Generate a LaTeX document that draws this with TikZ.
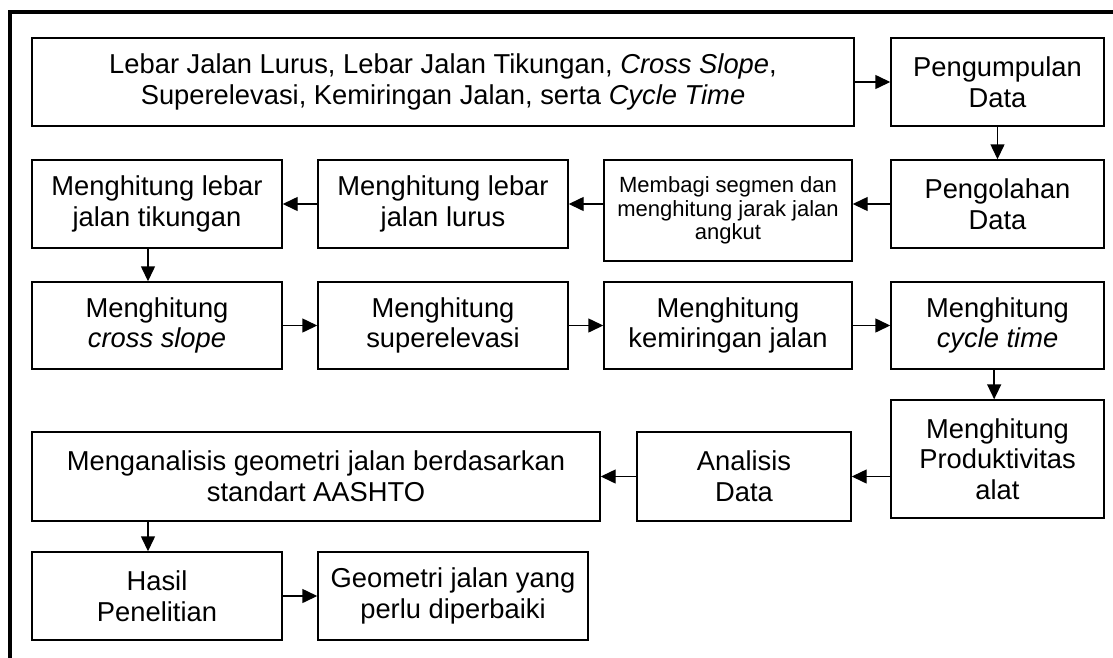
\documentclass[tikz,border=0pt]{standalone}
\usepackage{fontspec}
\setmainfont{Liberation Sans}
\usetikzlibrary{arrows.meta}
\newcommand\mainf{\fontsize{20.5pt}{23pt}\selectfont}
\newcommand\smallf{\fontsize{16.5pt}{17.5pt}\selectfont}
\begin{document}
\begin{tikzpicture}[x=0.75pt,y=-0.75pt,
  box/.style={draw, line width=1.1pt, inner sep=0pt, align=center, font=\mainf},
  smallbox/.style={draw, line width=1.1pt, inner sep=0pt, align=center, font=\smallf},
  arr/.style={line width=1.1pt, -{Triangle[length=11.25pt,width=10.5pt]}}]
\useasboundingbox (0,0) rectangle (1113,657);
\clip (0,0) rectangle (1113,657);
\fill[white] (0,0) rectangle (1113,657);
% frame
\draw[line width=3pt] (10,700) -- (10,12) -- (1200,12);
% row 1
\node[box, minimum width=616.5pt, minimum height=66pt] (top) at (443,82) {Lebar Jalan Lurus, Lebar Jalan Tikungan, \textit{Cross Slope},\\Superelevasi, Kemiringan Jalan, serta \textit{Cycle Time}};
\node[box, minimum width=159.75pt, minimum height=66pt] (kumpul) at (997.5,82) {Pengumpulan\\Data};
% row 2
\node[box, minimum width=159.75pt, minimum height=66pt] (olah) at (997.5,204) {Pengolahan\\Data};
\node[smallbox, minimum width=186pt, minimum height=75.75pt] (bagi) at (728,210.5) {Membagi segmen dan\\menghitung jarak jalan\\angkut};
\node[box, minimum width=187.5pt, minimum height=66pt] (lurus) at (443,204) {Menghitung lebar\\jalan lurus};
\node[box, minimum width=187.5pt, minimum height=66pt] (tik) at (157,204) {Menghitung lebar\\jalan tikungan};
% row 3
\node[box, minimum width=187.5pt, minimum height=65.25pt] (cross) at (157,325.5) {Menghitung\\\textit{cross slope}};
\node[box, minimum width=187.5pt, minimum height=65.25pt] (super) at (443,325.5) {Menghitung\\superelevasi};
\node[box, minimum width=186pt, minimum height=65.25pt] (miring) at (728,325.5) {Menghitung\\kemiringan jalan};
\node[box, minimum width=159.75pt, minimum height=65.25pt] (cycle) at (997.5,325.5) {Menghitung\\\textit{cycle time}};
% row 4
\node[box, minimum width=159.75pt, minimum height=88.5pt] (prod) at (997.5,459) {Menghitung\\Produktivitas\\alat};
\node[box, minimum width=160.5pt, minimum height=66.75pt] (anal) at (744,476.5) {Analisis\\Data};
\node[box, minimum width=426pt, minimum height=66.75pt] (geo) at (316,476.5) {Menganalisis geometri jalan berdasarkan\\standart AASHTO};
% row 5
\node[box, minimum width=187.5pt, minimum height=66pt] (hasil) at (157,596) {Hasil\\Penelitian};
\node[box, minimum width=202.5pt, minimum height=66pt] (perlu) at (453,596) {Geometri jalan yang\\perlu diperbaiki};
% connectors
\draw[arr] (top.east) -- (kumpul.west);
\draw[arr] (kumpul.south) -- (olah.north);
\draw[arr] (olah.west) -- (olah.west -| bagi.east);
\draw[arr] (lurus.east -| bagi.west) -- (lurus.east);
\draw[arr] (lurus.west) -- (tik.east);
\draw[arr] ([xshift=-6.75pt]tik.south) -- ([xshift=-6.75pt]cross.north);
\draw[arr] (cross.east) -- (super.west);
\draw[arr] (super.east) -- (miring.west);
\draw[arr] (miring.east) -- (cycle.west);
\draw[arr] ([xshift=-2.5pt]cycle.south) -- ([xshift=-2.5pt]prod.north);
\draw[arr] (anal.east -| prod.west) -- (anal.east);
\draw[arr] (anal.west) -- (geo.east);
\draw[arr] ([xshift=-6.75pt]geo.south -| hasil.north) -- ([xshift=-6.75pt]hasil.north);
\draw[arr] (hasil.east) -- (perlu.west);
\end{tikzpicture}
\end{document}
